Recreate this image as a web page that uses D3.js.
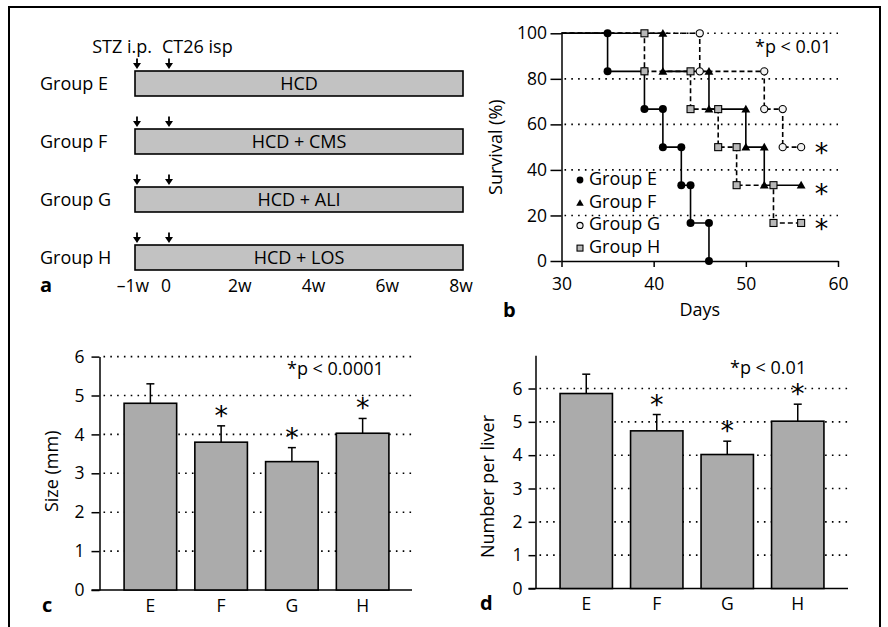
<!DOCTYPE html>
<html><head><meta charset="utf-8">
<script src="https://cdn.jsdelivr.net/npm/d3@7"></script>
<style>
html,body{margin:0;padding:0;background:#fff;}
svg text{font-family:"Open Sans",sans-serif;fill:#000;}
</style></head>
<body><svg id="chart" width="888" height="627"></svg>
<script>
// ---------- Data ----------
const timelineGroups = ["Group E","Group F","Group G","Group H"];
const treatments = ["HCD","HCD + CMS","HCD + ALI","HCD + LOS"];
const weekTicks = [-1,0,2,4,6,8];
const weekTickLabels = ["\u20131w","0","2w","4w","6w","8w"];
const arrowWeeks = [-1,0];
const timelineStart = -1, timelineEnd = 8;

const survGroups = ["Group E","Group F","Group G","Group H"];
const daysE = [30,35,35,39,39,41,41,43,43,44,44,46,46];
const survE = [100,100,83.3,83.3,66.7,66.7,50,50,33.3,33.3,16.7,16.7,0];
const daysF = [30,41,41,46,46,50,50,52,52,56];
const survF = [100,100,83.3,83.3,66.7,66.7,50,50,33.3,33.3];
const daysG = [30,45,45,52,52,54,54,56];
const survG = [100,100,83.3,83.3,66.7,66.7,50,50];
const daysH = [30,39,39,44,44,47,47,49,49,53,53,56];
const survH = [100,100,83.3,83.3,66.7,66.7,50,50,33.3,33.3,16.7,16.7];
const survSig = [false,true,true,true];
const survDayTicks = [30,40,50,60];
const survPctTicks = [0,20,40,60,80,100];

const barCats = ["E","F","G","H"];
const sizeMeans = [4.8,3.8,3.3,4.03];
const sizeErr = [0.5,0.42,0.36,0.38];
const sizeSig = [false,true,true,true];
const numMeans = [5.85,4.73,4.02,5.02];
const numErr = [0.58,0.49,0.40,0.51];
const numSig = [false,true,true,true];
const barTicks = [0,1,2,3,4,5,6];

// ---------- Setup ----------
const svg = d3.select("#chart");
svg.append("rect").attr("x",9).attr("y",7).attr("width",871).attr("height",700)
  .attr("fill","none").attr("stroke","#000").attr("stroke-width",2);

const FS = 18, TFS = 17.5;
function label(g, x, y, txt, opts={}) {
  const t = g.append("text").attr("x",x).attr("y",y).text(txt)
    .attr("font-size", opts.size||FS);
  if (opts.anchor) t.attr("text-anchor",opts.anchor);
  if (opts.bold) t.attr("font-weight","bold");
  if (opts.rotate) t.attr("transform",`rotate(-90,${x},${y})`);
  return t;
}
function styleAxis(g){
  g.selectAll("path.domain").attr("stroke","#000").attr("stroke-width",1.5);
  g.selectAll(".tick line").attr("stroke","#000").attr("stroke-width",1.5);
  g.selectAll(".tick text").attr("font-size",TFS).attr("font-family","Open Sans, sans-serif");
}

// ---------- Panel a ----------
const pa = svg.append("g");
const xA = d3.scaleLinear().domain([-1,0,8]).range([135,168,463]);
const yA = d3.scaleBand().domain(timelineGroups).range([54.5,286.5]).paddingInner(0.569).paddingOuter(0.2845);
label(pa, 152, 53, "STZ i.p.", {anchor:"end"});
label(pa, 162, 53, "CT26 isp");
timelineGroups.forEach((grp,i)=>{
  const top = yA(grp), h = yA.bandwidth();
  pa.append("rect").attr("x",xA(timelineStart)).attr("y",top)
    .attr("width",xA(timelineEnd)-xA(timelineStart)).attr("height",h)
    .attr("fill","#c2c2c2").attr("stroke","#000").attr("stroke-width",1.6);
  label(pa, (xA(timelineStart)+xA(timelineEnd))/2, top+h/2+6.5, treatments[i], {anchor:"middle"});
  label(pa, 40, top+h/2+6.5, grp);
  arrowWeeks.forEach(w=>{
    const ax = xA(w)+ (w===-1?2:1);
    pa.append("line").attr("x1",ax).attr("x2",ax).attr("y1",top-12.5).attr("y2",top-6)
      .attr("stroke","#000").attr("stroke-width",1.8);
    pa.append("path").attr("d",`M${ax-4},${top-8}L${ax+4},${top-8}L${ax},${top-2}Z`).attr("fill","#000");
  });
});
weekTicks.forEach((w,i)=>{
  label(pa, xA(w)-2, 292, weekTickLabels[i], {anchor:"middle", size:TFS});
});
label(pa, 40, 292, "a", {bold:true, size:20});

// ---------- Panel b ----------
const pb = svg.append("g");
const xB = d3.scaleLinear().domain([30,60]).range([561.5,838]);
const yB = d3.scaleLinear().domain([0,100]).range([261,33.3]);
survPctTicks.filter(v=>v>0).forEach(v=>{
  pb.append("line").attr("x1",xB(30)+3).attr("x2",xB(60)).attr("y1",yB(v)).attr("y2",yB(v))
    .attr("stroke","#000").attr("stroke-width",1.6).attr("stroke-dasharray","1.6,5.2");
});
const gyB = pb.append("g").attr("transform",`translate(${xB(30)},0)`)
  .call(d3.axisLeft(yB).tickValues(survPctTicks).tickFormat(d3.format("d")).tickSize(11).tickPadding(3.5).tickSizeOuter(0));
styleAxis(gyB);
const gxB = pb.append("g").attr("transform",`translate(0,${yB(0)})`)
  .call(d3.axisBottom(xB).tickValues(survDayTicks).tickFormat(d3.format("d")).tickSize(6).tickPadding(11).tickSizeOuter(0));
styleAxis(gxB);
label(pb, 502, (yB(0)+yB(100))/2, "Survival (%)", {anchor:"middle", rotate:true});
label(pb, xB(45), 316, "Days", {anchor:"middle"});
label(pb, 503, 317, "b", {bold:true, size:20});
label(pb, 755, 53, "*p < 0.01");

const survSeries = [
  {days:daysE, surv:survE, dash:null},
  {days:daysF, surv:survF, dash:null},
  {days:daysG, surv:survG, dash:"5,3"},
  {days:daysH, surv:survH, dash:"5,3"}
];
const lineB = d3.line().x(d=>xB(d[0])).y(d=>yB(d[1]));
survSeries.forEach(s=>{
  const pts = s.days.map((d,i)=>[d,s.surv[i]]);
  const p = pb.append("path").attr("d",lineB(pts)).attr("fill","none")
    .attr("stroke","#000").attr("stroke-width",1.6);
  if (s.dash) p.attr("stroke-dasharray",s.dash);
});
function marker(g, k, x, y, scale=1){
  if (k===0) g.append("circle").attr("cx",x).attr("cy",y).attr("r",4*scale).attr("fill","#000");
  else if (k===1) g.append("path").attr("d",d3.symbol(d3.symbolTriangle, 34*scale*scale)())
    .attr("transform",`translate(${x},${y+0.8})`).attr("fill","#000");
  else if (k===2) g.append("circle").attr("cx",x).attr("cy",y).attr("r",3.6*scale)
    .attr("fill","#f2f2f2").attr("stroke","#000").attr("stroke-width",1.1);
  else { const s=7*scale; g.append("rect").attr("x",x-s/2).attr("y",y-s/2).attr("width",s).attr("height",s)
    .attr("fill","#b8b8b8").attr("stroke","#000").attr("stroke-width",1.1); }
}
survSeries.forEach((s,k)=>{
  s.days.forEach((d,i)=>{ if(i>0) marker(pb,k,xB(d),yB(s.surv[i])); });
});
survSeries.forEach((s,k)=>{
  if (survSig[k]) {
    const last = s.surv[s.surv.length-1];
    pb.append("text").attr("x",xB(58.2)).attr("y",yB(last)+(k===1?18:15)).attr("text-anchor","middle")
      .attr("font-size",27).style("font-family","DejaVu Sans").text("*");
  }
});
survGroups.forEach((grp,k)=>{
  const by = 185 + k*22.7;
  marker(pb,k,580,by-5,0.85);
  label(pb, 589, by, grp);
});

// ---------- Bar panels ----------
function barPanel(opts){
  const g = svg.append("g");
  const y = d3.scaleLinear().domain([0,opts.yMax]).range([opts.y0, opts.y0 - opts.unit*opts.yMax]);
  const x = d3.scaleBand().domain(barCats).range(opts.xr).paddingInner(0.257).paddingOuter(0.1285);
  barTicks.filter(v=>v>0).forEach(v=>{
    g.append("line").attr("x1",opts.ax+4).attr("x2",opts.xEnd).attr("y1",y(v)).attr("y2",y(v))
      .attr("stroke","#000").attr("stroke-width",1.6).attr("stroke-dasharray","1.6,5.2");
  });
  const gy = g.append("g").attr("transform",`translate(${opts.ax},0)`)
    .call(d3.axisLeft(y).tickValues(barTicks).tickFormat(d3.format("d")).tickSize(opts.tick).tickPadding(opts.pad).tickSizeOuter(0));
  styleAxis(gy);
  g.append("line").attr("x1",opts.ax-opts.tick).attr("x2",opts.xEnd).attr("y1",y(0)).attr("y2",y(0))
    .attr("stroke","#000").attr("stroke-width",1.5);
  barCats.forEach((c,i)=>{
    const m = opts.means[i], e = opts.err[i], cx = x(c)+x.bandwidth()/2;
    g.append("line").attr("x1",cx).attr("x2",cx).attr("y1",y(m)).attr("y2",y(m+e))
      .attr("stroke","#000").attr("stroke-width",1.5);
    g.append("line").attr("x1",cx-4).attr("x2",cx+4).attr("y1",y(m+e)).attr("y2",y(m+e))
      .attr("stroke","#000").attr("stroke-width",1.5);
    g.append("rect").attr("x",x(c)).attr("y",y(m)).attr("width",x.bandwidth()).attr("height",y(0)-y(m))
      .attr("fill","#ababab").attr("stroke","#000").attr("stroke-width",1.6);
    if (opts.sig[i]) g.append("text").attr("x",cx).attr("y",y(m+e)-1).attr("text-anchor","middle")
      .attr("font-size",27).style("font-family","DejaVu Sans").text("*");
    label(g, cx, opts.labY, c, {anchor:"middle", size:TFS});
  });
  label(g, opts.titleX, (y(0)+y(6))/2 - 2, opts.title, {anchor:"middle", rotate:true});
  label(g, opts.pX, opts.pY, opts.pText);
  label(g, opts.letterX, opts.labY, opts.letter, {bold:true, size:20});
}
barPanel({yMax:6, y0:590, unit:38.9, xr:[115,398], ax:99.5, xEnd:412, tick:8, pad:7,
  means:sizeMeans, err:sizeErr, sig:sizeSig, labY:611.5, title:"Size (mm)", titleX:58,
  pX:287, pY:375, pText:"*p < 0.0001", letter:"c", letterX:42});
barPanel({yMax:7, y0:588.5, unit:33.33, xr:[551,833], ax:535.5, xEnd:848, tick:7, pad:6,
  means:numMeans, err:numErr, sig:numSig, labY:610, title:"Number per liver", titleX:494,
  pX:730, pY:373.5, pText:"*p < 0.01", letter:"d", letterX:480});
</script></body></html>
